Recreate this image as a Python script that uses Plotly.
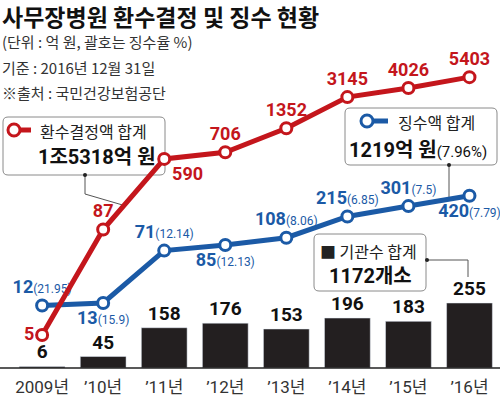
import plotly.graph_objects as go

# ---- data ----
years = ["2009년", "’10년", "’11년", "’12년", "’13년", "’14년", "’15년", "’16년"]
refund_decided = [5, 87, 590, 706, 1352, 3145, 4026, 5403]          # 환수결정액 (억 원)
collected = [12, 13, 71, 85, 108, 215, 301, 420]                     # 징수액 (억 원)
collect_rate = ["21.95", "15.9", "12.14", "12.13", "8.06", "6.85", "7.5", "7.79"]  # 징수율 %
institutions = [6, 45, 158, 176, 153, 196, 183, 255]                 # 기관수

RED = "#c4161c"
BLUE = "#1b5aa6"
BAR = "#231f20"
NUM = "Roboto, Noto Sans CJK KR, sans-serif"
KR = "Noto Sans CJK KR, sans-serif"

W, H = 500, 397
MT, MB = 0, 29
PH = H - MT - MB


def px(x):
    return x / W


def py(y):
    return 1 - (y - MT) / PH


red_pos = ["middle left", "top center", "bottom right", "top center",
           "top center", "top center", "top center", "top center"]
blue_pos = ["top center", "bottom center", "top center", "bottom center",
            "top center", "top center", "top center", "bottom center"]

fig = go.Figure()

fig.add_trace(go.Bar(
    x=years, y=institutions, marker_color=BAR, width=0.75,
    text=[f"<b>{v}</b>" for v in institutions], textposition="outside",
    textfont=dict(family=NUM, size=19, color="#111"), constraintext="none",
    cliponaxis=False, yaxis="y", showlegend=False,
))

fig.add_trace(go.Scatter(
    x=years, y=collected, mode="lines+markers+text", yaxis="y2",
    line=dict(color=BLUE, width=5),
    marker=dict(symbol="circle", size=11, color="white", line=dict(color=BLUE, width=3)),
    text=[f"<b>{v}</b><span style='font-size:12px;font-weight:normal'>({r})</span>"
          for v, r in zip(collected, collect_rate)],
    textposition=blue_pos,
    textfont=dict(family=NUM, size=18, color=BLUE),
    cliponaxis=False, showlegend=False,
))

fig.add_trace(go.Scatter(
    x=years, y=refund_decided, mode="lines+markers+text", yaxis="y3",
    line=dict(color=RED, width=5),
    marker=dict(symbol="circle", size=11, color="white", line=dict(color=RED, width=3)),
    text=[f"<b>{v}</b>" for v in refund_decided],
    textposition=red_pos,
    textfont=dict(family=NUM, size=18, color=RED),
    cliponaxis=False, showlegend=False,
))


def rrect(x0, y0, x1, y1, r=5):
    pts = (f"M {px(x0 + r)},{py(y0)} L {px(x1 - r)},{py(y0)} "
           f"Q {px(x1)},{py(y0)} {px(x1)},{py(y0 + r)} L {px(x1)},{py(y1 - r)} "
           f"Q {px(x1)},{py(y1)} {px(x1 - r)},{py(y1)} L {px(x0 + r)},{py(y1)} "
           f"Q {px(x0)},{py(y1)} {px(x0)},{py(y1 - r)} L {px(x0)},{py(y0 + r)} "
           f"Q {px(x0)},{py(y0)} {px(x0 + r)},{py(y0)} Z")
    return dict(type="path", path=pts, xref="paper", yref="paper",
                line=dict(color="#8a8a8a", width=1), fillcolor="white", layer="below")


def seg(pts, color="#555", width=1, layer="below"):
    d = "M " + " L ".join(f"{px(a)},{py(b)}" for a, b in pts)
    return dict(type="path", path=d, xref="paper", yref="paper",
                line=dict(color=color, width=width), layer=layer)


def dot(x, y, r=2, color="#222"):
    return dict(type="circle", xref="paper", yref="paper",
                x0=px(x - r), x1=px(x + r), y0=py(y + r), y1=py(y - r),
                fillcolor=color, line=dict(width=0), layer="below")


shapes = [
    dict(type="line", xref="paper", yref="paper", x0=0, x1=1, y0=0, y1=0,
         line=dict(color="#222", width=1.5), layer="above"),
    seg([(85, 175), (85, 194), (126, 206)]),
    seg([(449, 165), (449, 199)]),
    seg([(427, 260), (468, 260), (468, 277)]),
    rrect(3, 117, 165, 175),
    rrect(345, 108, 497, 165),
    rrect(314, 234, 426, 291),
    dot(85, 175), dot(449, 165), dot(427, 260),
    seg([(18, 130), (31, 130)], RED, 5, "above"),
    dict(type="circle", xref="paper", yref="paper", x0=px(8), x1=px(20),
         y0=py(136), y1=py(124), fillcolor="white", line=dict(color=RED, width=3), layer="above"),
    seg([(373, 121), (388, 121)], BLUE, 5, "above"),
    dict(type="circle", xref="paper", yref="paper", x0=px(361), x1=px(373),
         y0=py(127), y1=py(115), fillcolor="white", line=dict(color=BLUE, width=3), layer="above"),
]

annotations = []


def ann(text, x, y, size, color="#111", xanchor="left", family=KR):
    annotations.append(dict(text=text, x=px(x), y=py(y), xref="paper", yref="paper",
                            xanchor=xanchor, yanchor="middle", showarrow=False,
                            font=dict(family=family, size=size, color=color)))


ann("<b>사무장병원 환수결정 및 징수 현황</b>", 0, 16, 23, "#111")
ann("(단위 : 억 원, 괄호는 징수율 %)", 0, 42, 15, "#333")
ann("기준 : 2016년 12월 31일", 0, 68, 15, "#333")
ann("※출처 : 국민건강보험공단", 0, 92, 15, "#333")

ann("환수결정액 합계", 38, 131, 16, "#222")
ann("<b>1조5318억 원</b>", 36, 157, 20, "#111", family=NUM)
ann("징수액 합계", 396, 122, 16, "#222")
ann("<b>1219억 원</b><span style='font-size:15px;font-weight:normal'>(7.96%)</span>",
    347, 150, 20, "#111", family=NUM)
ann("■ 기관수 합계", 318, 251, 16, "#222")
ann("<b>1172개소</b>", 370, 276, 20, "#111", xanchor="center", family=NUM)

fig.update_layout(
    width=W, height=H,
    margin=dict(l=0, r=0, t=MT, b=MB),
    paper_bgcolor="white", plot_bgcolor="white",
    bargap=0.25,
    xaxis=dict(type="category", range=[-0.69, 7.5], showgrid=False, zeroline=False,
               showline=False, ticks="outside", ticklen=4, tickcolor="rgba(0,0,0,0)",
               tickfont=dict(family=NUM, size=17, color="#333")),
    yaxis=dict(range=[0, 1444], visible=False, showgrid=False, zeroline=False),
    yaxis2=dict(type="log", range=[0.198, 5.381], overlaying="y", visible=False,
                showgrid=False, zeroline=False),
    yaxis3=dict(type="log", range=[0.311, 4.640], overlaying="y", visible=False,
                showgrid=False, zeroline=False),
    shapes=shapes, annotations=annotations,
    showlegend=False,
)

fig.write_html("out.html", config={"displayModeBar": False},
               post_script="document.body.style.margin='0';")
